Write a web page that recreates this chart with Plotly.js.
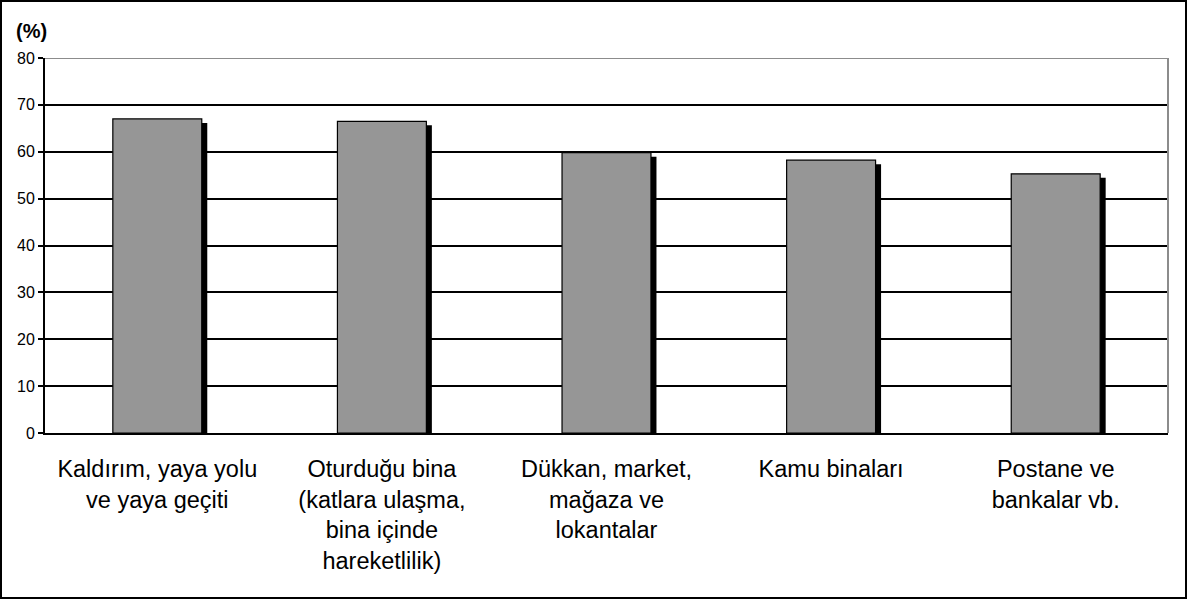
<!DOCTYPE html>
<html>
<head>
<meta charset="utf-8">
<script src="https://cdn.plot.ly/plotly-3.0.1.min.js"></script>
<style>
  html, body { margin: 0; padding: 0; background: #fff; }
  #wrap { position: relative; width: 1187px; height: 599px; }
  #chart { position: absolute; left: 0; top: 0; width: 1187px; height: 599px; }
  #frame { position: absolute; left: 0px; top: 0px; width: 1183px; height: 595px; border: 2px solid #000; pointer-events: none; }
</style>
</head>
<body>
<div id="wrap">
  <div id="chart"></div>
  <div id="frame"></div>
</div>
<script>
// Data
const categories = [
  "Kaldırım, yaya yolu<br>ve yaya geçiti",
  "Oturduğu bina<br>(katlara ulaşma,<br>bina içinde<br>hareketlilik)",
  "Dükkan, market,<br>mağaza ve<br>lokantalar",
  "Kamu binaları",
  "Postane ve<br>bankalar vb."
];
const values = [67.0, 66.5, 59.8, 58.2, 55.3];
const yTickValues = [0, 10, 20, 30, 40, 50, 60, 70, 80];
const yUnitLabel = "(%)";

// Styling
const barWidth = 0.396;
const shadowDx = 0.0245;   // category units (~5.5px)
const shadowDy = 0.85;     // data units (~4px)
const FONT = "'Liberation Sans', Arial, sans-serif";

const shadow = {
  type: "bar",
  x: categories,
  y: values.map(v => v - shadowDy),
  width: barWidth,
  offset: -barWidth / 2 + shadowDx,
  marker: { color: "#000000", line: { width: 0 } },
  hoverinfo: "skip",
  showlegend: false
};

const bars = {
  type: "bar",
  x: categories,
  y: values,
  width: barWidth,
  offset: -barWidth / 2,
  marker: { color: "#969696", line: { color: "#000000", width: 1.2 } },
  showlegend: false
};

const layout = {
  width: 1187,
  height: 599,
  margin: { l: 45, r: 19, t: 58, b: 166 },
  paper_bgcolor: "#ffffff",
  plot_bgcolor: "#ffffff",
  barmode: "overlay",
  font: { family: FONT, color: "#000000" },
  xaxis: {
    type: "category",
    showgrid: false,
    showline: true,
    linecolor: "#000000",
    linewidth: 2,
    ticks: "",
    tickfont: { size: 23.5, family: FONT },
    ticklabelstandoff: 14,
    zeroline: false,
    fixedrange: true
  },
  yaxis: {
    range: [0, 80],
    tickvals: yTickValues,
    ticktext: yTickValues.map(String),
    showgrid: true,
    gridcolor: "#000000",
    gridwidth: 2,
    showline: true,
    linecolor: "#000000",
    linewidth: 2,
    ticks: "outside",
    ticklen: 5,
    tickwidth: 2,
    tickcolor: "#000000",
    tickfont: { size: 16, family: FONT },
    zeroline: false,
    fixedrange: true
  },
  shapes: [
    { type: "line", xref: "paper", yref: "y", x0: 0, x1: 1, y0: 80, y1: 80,
      line: { color: "#8c8c8c", width: 2 }, layer: "above" },
    { type: "line", xref: "paper", yref: "y", x0: 1, x1: 1, y0: 0, y1: 80,
      line: { color: "#8c8c8c", width: 2 }, layer: "above" }
  ],
  annotations: [
    { text: "<b>" + yUnitLabel + "</b>", xref: "paper", yref: "paper",
      x: -0.028, y: 1.072, xanchor: "left", yanchor: "middle", showarrow: false,
      font: { size: 20, family: FONT, color: "#000" } }
  ]
};

Plotly.newPlot("chart", [shadow, bars], layout, { staticPlot: true, displayModeBar: false });
</script>
</body>
</html>
